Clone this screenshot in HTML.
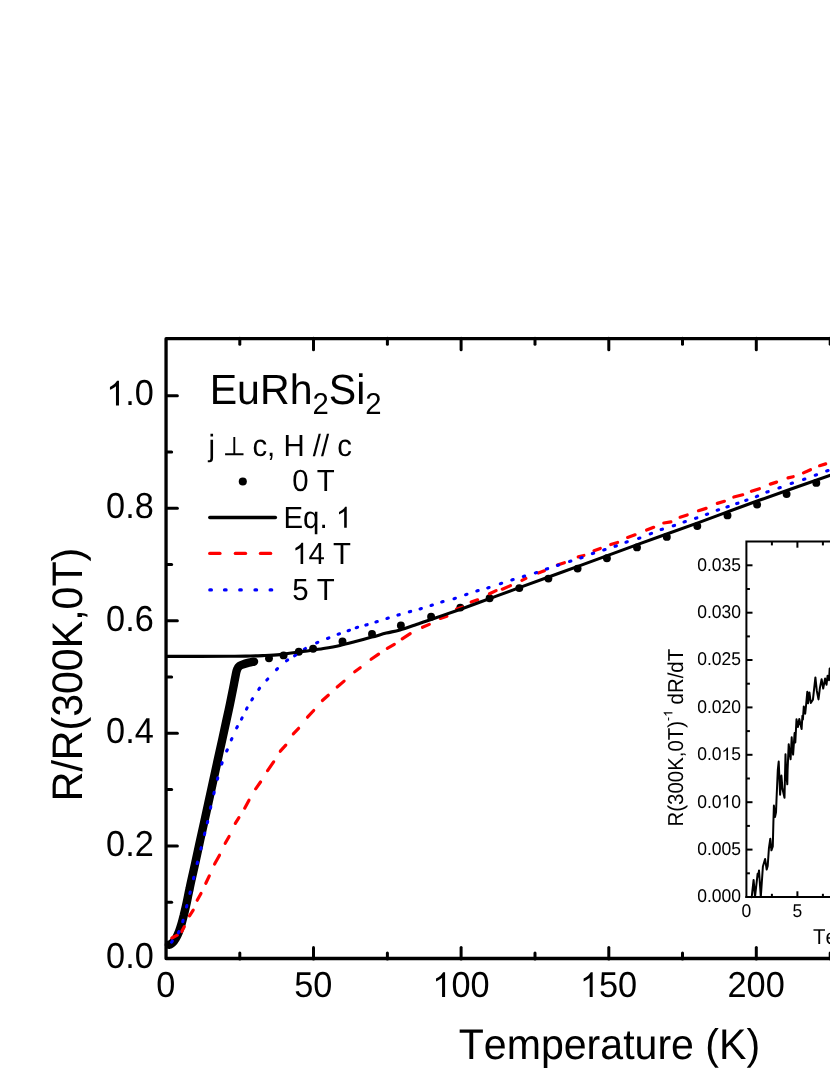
<!DOCTYPE html>
<html lang="en">
<head>
<meta charset="utf-8">
<title>EuRh2Si2 resistance</title>
<style>
html,body{margin:0;padding:0;background:#ffffff;}
body{width:830px;height:1075px;overflow:hidden;font-family:"Liberation Sans",sans-serif;}
svg{will-change:transform;}
svg text{font-family:"Liberation Sans",sans-serif;font-kerning:none;text-rendering:geometricPrecision;}
</style>
</head>
<body>
<svg width="830" height="1075" viewBox="0 0 830 1075" style="display:block">
<rect x="0" y="0" width="830" height="1075" fill="#ffffff"/>
<path d="M168.9,944.7 C169.2,944.6 169.9,944.5 170.5,944.2 C171.1,943.9 171.6,943.5 172.2,943.0 C172.8,942.5 173.4,941.9 173.9,941.2 C174.4,940.5 174.9,939.8 175.4,939.0 C175.9,938.2 176.3,937.6 176.9,936.4 C177.5,935.2 178.2,933.6 179.0,931.6 C179.8,929.6 180.6,927.0 181.4,924.3 C182.2,921.6 182.9,918.5 183.7,915.5 C184.4,912.5 185.2,909.3 185.9,906.3 C186.6,903.3 187.2,900.3 187.8,897.3 C188.4,894.3 188.9,891.7 189.7,888.2 C190.4,884.7 191.4,880.2 192.3,876.2 C193.2,872.2 193.7,870.1 195.0,864.1 C196.3,858.1 198.4,848.6 200.2,840.0 C202.1,831.4 204.3,821.7 206.3,812.5 C208.3,803.3 210.5,793.3 212.3,785.0 C214.1,776.7 215.6,770.0 217.2,762.5 C218.8,755.0 220.6,747.0 222.2,739.9 C223.7,732.8 225.2,725.9 226.5,720.0 C227.8,714.1 228.8,709.6 229.9,704.3 C231.0,699.0 232.3,692.7 233.2,688.0 C234.1,683.3 234.9,678.9 235.5,676.1 C236.1,673.3 236.2,672.3 236.6,671.0 C237.0,669.7 237.2,669.0 237.7,668.2 C238.1,667.4 238.6,666.8 239.3,666.2 C240.0,665.7 240.1,665.5 241.7,664.9 C243.3,664.3 246.8,663.2 248.9,662.7 C251.0,662.2 253.2,661.8 254.0,661.6" fill="none" stroke="#000" stroke-width="8.4" stroke-linecap="round" stroke-linejoin="round"/>
<circle cx="269.0" cy="658.3" r="3.95" fill="#000"/>
<circle cx="283.6" cy="655.4" r="3.95" fill="#000"/>
<circle cx="298.8" cy="651.8" r="3.95" fill="#000"/>
<circle cx="313.1" cy="648.8" r="3.95" fill="#000"/>
<circle cx="342.5" cy="641.5" r="3.95" fill="#000"/>
<circle cx="372.0" cy="633.9" r="3.95" fill="#000"/>
<circle cx="400.9" cy="625.5" r="3.95" fill="#000"/>
<circle cx="431.1" cy="616.8" r="3.95" fill="#000"/>
<circle cx="460.3" cy="607.6" r="3.95" fill="#000"/>
<circle cx="489.6" cy="598.2" r="3.95" fill="#000"/>
<circle cx="519.3" cy="588.1" r="3.95" fill="#000"/>
<circle cx="548.4" cy="578.6" r="3.95" fill="#000"/>
<circle cx="577.6" cy="568.6" r="3.95" fill="#000"/>
<circle cx="606.9" cy="558.3" r="3.95" fill="#000"/>
<circle cx="637.0" cy="547.4" r="3.95" fill="#000"/>
<circle cx="666.8" cy="536.9" r="3.95" fill="#000"/>
<circle cx="697.3" cy="526.1" r="3.95" fill="#000"/>
<circle cx="727.5" cy="515.4" r="3.95" fill="#000"/>
<circle cx="757.1" cy="504.6" r="3.95" fill="#000"/>
<circle cx="786.6" cy="494.1" r="3.95" fill="#000"/>
<circle cx="816.3" cy="482.9" r="3.95" fill="#000"/>
<line x1="171.9" y1="938.0" x2="177.3" y2="935.2" stroke="#ff0000" stroke-width="3.2" stroke-linecap="round"/>
<line x1="181.7" y1="931.6" x2="184.3" y2="926.7" stroke="#ff0000" stroke-width="3.2" stroke-linecap="round"/>
<line x1="189.5" y1="915.8" x2="193.2" y2="910.1" stroke="#ff0000" stroke-width="3.2" stroke-linecap="round"/>
<line x1="197.2" y1="900.2" x2="201.0" y2="893.5" stroke="#ff0000" stroke-width="3.2" stroke-linecap="round"/>
<line x1="205.8" y1="883.3" x2="209.3" y2="875.9" stroke="#ff0000" stroke-width="3.2" stroke-linecap="round"/>
<line x1="214.6" y1="864.0" x2="219.5" y2="855.2" stroke="#ff0000" stroke-width="3.2" stroke-linecap="round"/>
<line x1="225.2" y1="843.3" x2="229.1" y2="836.5" stroke="#ff0000" stroke-width="3.2" stroke-linecap="round"/>
<line x1="235.3" y1="823.4" x2="238.9" y2="817.6" stroke="#ff0000" stroke-width="3.2" stroke-linecap="round"/>
<line x1="244.7" y1="808.2" x2="249.0" y2="800.2" stroke="#ff0000" stroke-width="3.2" stroke-linecap="round"/>
<line x1="255.7" y1="788.8" x2="260.5" y2="782.0" stroke="#ff0000" stroke-width="3.2" stroke-linecap="round"/>
<line x1="267.6" y1="770.6" x2="273.6" y2="761.9" stroke="#ff0000" stroke-width="3.2" stroke-linecap="round"/>
<line x1="280.3" y1="751.2" x2="285.8" y2="745.2" stroke="#ff0000" stroke-width="3.2" stroke-linecap="round"/>
<line x1="293.3" y1="733.8" x2="298.6" y2="728.3" stroke="#ff0000" stroke-width="3.2" stroke-linecap="round"/>
<line x1="307.5" y1="717.2" x2="313.7" y2="710.5" stroke="#ff0000" stroke-width="3.2" stroke-linecap="round"/>
<line x1="322.4" y1="700.5" x2="328.3" y2="695.2" stroke="#ff0000" stroke-width="3.2" stroke-linecap="round"/>
<line x1="337.2" y1="687.0" x2="344.1" y2="681.1" stroke="#ff0000" stroke-width="3.2" stroke-linecap="round"/>
<line x1="354.7" y1="671.7" x2="360.2" y2="667.8" stroke="#ff0000" stroke-width="3.2" stroke-linecap="round"/>
<line x1="371.1" y1="659.3" x2="378.6" y2="654.1" stroke="#ff0000" stroke-width="3.2" stroke-linecap="round"/>
<line x1="387.3" y1="648.3" x2="394.3" y2="644.4" stroke="#ff0000" stroke-width="3.2" stroke-linecap="round"/>
<line x1="402.2" y1="638.9" x2="410.2" y2="633.6" stroke="#ff0000" stroke-width="3.2" stroke-linecap="round"/>
<line x1="422.5" y1="627.3" x2="429.3" y2="624.4" stroke="#ff0000" stroke-width="3.2" stroke-linecap="round"/>
<line x1="440.3" y1="618.4" x2="446.9" y2="616.2" stroke="#ff0000" stroke-width="3.2" stroke-linecap="round"/>
<line x1="456.6" y1="609.1" x2="462.4" y2="607.2" stroke="#ff0000" stroke-width="3.2" stroke-linecap="round"/>
<line x1="471.2" y1="602.1" x2="477.6" y2="599.8" stroke="#ff0000" stroke-width="3.2" stroke-linecap="round"/>
<line x1="489.5" y1="593.7" x2="496.1" y2="590.6" stroke="#ff0000" stroke-width="3.2" stroke-linecap="round"/>
<line x1="502.3" y1="589.2" x2="510.5" y2="585.6" stroke="#ff0000" stroke-width="3.2" stroke-linecap="round"/>
<line x1="521.9" y1="580.4" x2="525.9" y2="578.4" stroke="#ff0000" stroke-width="3.2" stroke-linecap="round"/>
<line x1="538.3" y1="573.0" x2="544.4" y2="570.8" stroke="#ff0000" stroke-width="3.2" stroke-linecap="round"/>
<line x1="557.4" y1="565.0" x2="564.4" y2="562.7" stroke="#ff0000" stroke-width="3.2" stroke-linecap="round"/>
<line x1="578.2" y1="556.9" x2="583.9" y2="555.5" stroke="#ff0000" stroke-width="3.2" stroke-linecap="round"/>
<line x1="594.0" y1="550.7" x2="600.3" y2="548.4" stroke="#ff0000" stroke-width="3.2" stroke-linecap="round"/>
<line x1="610.7" y1="544.6" x2="617.6" y2="542.4" stroke="#ff0000" stroke-width="3.2" stroke-linecap="round"/>
<line x1="627.6" y1="537.4" x2="635.1" y2="534.8" stroke="#ff0000" stroke-width="3.2" stroke-linecap="round"/>
<line x1="646.6" y1="530.1" x2="653.7" y2="527.3" stroke="#ff0000" stroke-width="3.2" stroke-linecap="round"/>
<line x1="663.8" y1="523.0" x2="670.9" y2="521.9" stroke="#ff0000" stroke-width="3.2" stroke-linecap="round"/>
<line x1="680.1" y1="517.2" x2="687.2" y2="515.0" stroke="#ff0000" stroke-width="3.2" stroke-linecap="round"/>
<line x1="698.5" y1="510.7" x2="706.1" y2="508.4" stroke="#ff0000" stroke-width="3.2" stroke-linecap="round"/>
<line x1="717.3" y1="503.4" x2="724.4" y2="501.3" stroke="#ff0000" stroke-width="3.2" stroke-linecap="round"/>
<line x1="733.8" y1="497.0" x2="742.7" y2="494.8" stroke="#ff0000" stroke-width="3.2" stroke-linecap="round"/>
<line x1="751.4" y1="491.3" x2="759.4" y2="488.7" stroke="#ff0000" stroke-width="3.2" stroke-linecap="round"/>
<line x1="770.3" y1="484.1" x2="776.6" y2="482.1" stroke="#ff0000" stroke-width="3.2" stroke-linecap="round"/>
<line x1="788.0" y1="477.9" x2="793.2" y2="476.7" stroke="#ff0000" stroke-width="3.2" stroke-linecap="round"/>
<line x1="803.5" y1="472.9" x2="810.5" y2="469.7" stroke="#ff0000" stroke-width="3.2" stroke-linecap="round"/>
<line x1="819.6" y1="465.7" x2="825.7" y2="463.9" stroke="#ff0000" stroke-width="3.2" stroke-linecap="round"/>
<line x1="171.6" y1="942.2" x2="172.4" y2="941.0" stroke="#0000ff" stroke-width="3.1" stroke-linecap="round"/>
<line x1="178.4" y1="932.8" x2="179.0" y2="931.6" stroke="#0000ff" stroke-width="3.1" stroke-linecap="round"/>
<line x1="182.7" y1="921.7" x2="183.1" y2="920.3" stroke="#0000ff" stroke-width="3.1" stroke-linecap="round"/>
<line x1="186.5" y1="907.0" x2="186.9" y2="905.6" stroke="#0000ff" stroke-width="3.1" stroke-linecap="round"/>
<line x1="189.9" y1="893.4" x2="190.3" y2="892.0" stroke="#0000ff" stroke-width="3.1" stroke-linecap="round"/>
<line x1="193.5" y1="878.7" x2="193.9" y2="877.3" stroke="#0000ff" stroke-width="3.1" stroke-linecap="round"/>
<line x1="197.1" y1="863.6" x2="197.5" y2="862.2" stroke="#0000ff" stroke-width="3.1" stroke-linecap="round"/>
<line x1="200.8" y1="849.1" x2="201.2" y2="847.7" stroke="#0000ff" stroke-width="3.1" stroke-linecap="round"/>
<line x1="204.4" y1="834.5" x2="204.8" y2="833.1" stroke="#0000ff" stroke-width="3.1" stroke-linecap="round"/>
<line x1="207.3" y1="822.9" x2="207.7" y2="821.5" stroke="#0000ff" stroke-width="3.1" stroke-linecap="round"/>
<line x1="210.4" y1="808.2" x2="210.8" y2="806.8" stroke="#0000ff" stroke-width="3.1" stroke-linecap="round"/>
<line x1="213.8" y1="793.7" x2="214.2" y2="792.3" stroke="#0000ff" stroke-width="3.1" stroke-linecap="round"/>
<line x1="217.4" y1="779.3" x2="217.8" y2="777.9" stroke="#0000ff" stroke-width="3.1" stroke-linecap="round"/>
<line x1="221.7" y1="764.1" x2="222.1" y2="762.7" stroke="#0000ff" stroke-width="3.1" stroke-linecap="round"/>
<line x1="226.7" y1="751.0" x2="227.3" y2="749.8" stroke="#0000ff" stroke-width="3.1" stroke-linecap="round"/>
<line x1="231.3" y1="739.8" x2="231.9" y2="738.6" stroke="#0000ff" stroke-width="3.1" stroke-linecap="round"/>
<line x1="236.7" y1="727.9" x2="237.3" y2="726.7" stroke="#0000ff" stroke-width="3.1" stroke-linecap="round"/>
<line x1="241.5" y1="719.1" x2="242.1" y2="717.9" stroke="#0000ff" stroke-width="3.1" stroke-linecap="round"/>
<line x1="246.5" y1="709.1" x2="247.1" y2="707.9" stroke="#0000ff" stroke-width="3.1" stroke-linecap="round"/>
<line x1="251.8" y1="699.9" x2="252.6" y2="698.7" stroke="#0000ff" stroke-width="3.1" stroke-linecap="round"/>
<line x1="258.8" y1="689.4" x2="259.6" y2="688.2" stroke="#0000ff" stroke-width="3.1" stroke-linecap="round"/>
<line x1="266.8" y1="680.0" x2="267.8" y2="679.0" stroke="#0000ff" stroke-width="3.1" stroke-linecap="round"/>
<line x1="276.5" y1="669.6" x2="277.5" y2="668.6" stroke="#0000ff" stroke-width="3.1" stroke-linecap="round"/>
<line x1="286.5" y1="660.8" x2="287.7" y2="660.0" stroke="#0000ff" stroke-width="3.1" stroke-linecap="round"/>
<line x1="294.6" y1="655.8" x2="295.8" y2="655.0" stroke="#0000ff" stroke-width="3.1" stroke-linecap="round"/>
<line x1="304.3" y1="649.3" x2="305.5" y2="648.5" stroke="#0000ff" stroke-width="3.1" stroke-linecap="round"/>
<line x1="316.6" y1="642.9" x2="317.8" y2="642.3" stroke="#0000ff" stroke-width="3.1" stroke-linecap="round"/>
<line x1="327.5" y1="638.5" x2="328.9" y2="637.9" stroke="#0000ff" stroke-width="3.1" stroke-linecap="round"/>
<line x1="338.1" y1="634.2" x2="339.5" y2="633.8" stroke="#0000ff" stroke-width="3.1" stroke-linecap="round"/>
<line x1="348.1" y1="630.7" x2="349.5" y2="630.3" stroke="#0000ff" stroke-width="3.1" stroke-linecap="round"/>
<line x1="356.2" y1="627.7" x2="357.6" y2="627.3" stroke="#0000ff" stroke-width="3.1" stroke-linecap="round"/>
<line x1="365.8" y1="625.1" x2="367.2" y2="624.7" stroke="#0000ff" stroke-width="3.1" stroke-linecap="round"/>
<line x1="375.9" y1="622.0" x2="377.3" y2="621.6" stroke="#0000ff" stroke-width="3.1" stroke-linecap="round"/>
<line x1="386.9" y1="618.5" x2="388.3" y2="618.1" stroke="#0000ff" stroke-width="3.1" stroke-linecap="round"/>
<line x1="397.9" y1="615.1" x2="399.3" y2="614.7" stroke="#0000ff" stroke-width="3.1" stroke-linecap="round"/>
<line x1="409.3" y1="611.8" x2="410.7" y2="611.4" stroke="#0000ff" stroke-width="3.1" stroke-linecap="round"/>
<line x1="420.0" y1="608.9" x2="421.4" y2="608.5" stroke="#0000ff" stroke-width="3.1" stroke-linecap="round"/>
<line x1="431.0" y1="605.5" x2="432.4" y2="605.1" stroke="#0000ff" stroke-width="3.1" stroke-linecap="round"/>
<line x1="441.7" y1="602.0" x2="443.1" y2="601.6" stroke="#0000ff" stroke-width="3.1" stroke-linecap="round"/>
<line x1="454.0" y1="598.7" x2="455.4" y2="598.3" stroke="#0000ff" stroke-width="3.1" stroke-linecap="round"/>
<line x1="465.6" y1="594.7" x2="467.0" y2="594.3" stroke="#0000ff" stroke-width="3.1" stroke-linecap="round"/>
<line x1="476.8" y1="591.0" x2="478.2" y2="590.6" stroke="#0000ff" stroke-width="3.1" stroke-linecap="round"/>
<line x1="487.7" y1="587.9" x2="489.1" y2="587.5" stroke="#0000ff" stroke-width="3.1" stroke-linecap="round"/>
<line x1="500.3" y1="583.7" x2="501.7" y2="583.3" stroke="#0000ff" stroke-width="3.1" stroke-linecap="round"/>
<line x1="511.8" y1="580.0" x2="513.2" y2="579.6" stroke="#0000ff" stroke-width="3.1" stroke-linecap="round"/>
<line x1="523.3" y1="576.5" x2="524.7" y2="576.1" stroke="#0000ff" stroke-width="3.1" stroke-linecap="round"/>
<line x1="535.3" y1="572.9" x2="536.7" y2="572.5" stroke="#0000ff" stroke-width="3.1" stroke-linecap="round"/>
<line x1="546.3" y1="569.1" x2="547.7" y2="568.7" stroke="#0000ff" stroke-width="3.1" stroke-linecap="round"/>
<line x1="557.4" y1="565.4" x2="558.8" y2="565.0" stroke="#0000ff" stroke-width="3.1" stroke-linecap="round"/>
<line x1="569.5" y1="561.5" x2="570.9" y2="561.1" stroke="#0000ff" stroke-width="3.1" stroke-linecap="round"/>
<line x1="580.7" y1="558.0" x2="582.1" y2="557.6" stroke="#0000ff" stroke-width="3.1" stroke-linecap="round"/>
<line x1="592.3" y1="553.6" x2="593.7" y2="553.2" stroke="#0000ff" stroke-width="3.1" stroke-linecap="round"/>
<line x1="603.7" y1="550.0" x2="605.1" y2="549.6" stroke="#0000ff" stroke-width="3.1" stroke-linecap="round"/>
<line x1="615.0" y1="546.3" x2="616.4" y2="545.9" stroke="#0000ff" stroke-width="3.1" stroke-linecap="round"/>
<line x1="625.9" y1="542.2" x2="627.3" y2="541.8" stroke="#0000ff" stroke-width="3.1" stroke-linecap="round"/>
<line x1="638.5" y1="538.4" x2="639.9" y2="538.0" stroke="#0000ff" stroke-width="3.1" stroke-linecap="round"/>
<line x1="650.2" y1="533.9" x2="651.6" y2="533.3" stroke="#0000ff" stroke-width="3.1" stroke-linecap="round"/>
<line x1="661.1" y1="529.6" x2="662.5" y2="529.2" stroke="#0000ff" stroke-width="3.1" stroke-linecap="round"/>
<line x1="673.2" y1="525.8" x2="674.6" y2="525.4" stroke="#0000ff" stroke-width="3.1" stroke-linecap="round"/>
<line x1="684.0" y1="522.0" x2="685.4" y2="521.6" stroke="#0000ff" stroke-width="3.1" stroke-linecap="round"/>
<line x1="695.5" y1="518.3" x2="696.9" y2="517.9" stroke="#0000ff" stroke-width="3.1" stroke-linecap="round"/>
<line x1="706.3" y1="514.4" x2="707.7" y2="514.0" stroke="#0000ff" stroke-width="3.1" stroke-linecap="round"/>
<line x1="717.2" y1="510.2" x2="718.6" y2="509.8" stroke="#0000ff" stroke-width="3.1" stroke-linecap="round"/>
<line x1="726.9" y1="507.0" x2="728.3" y2="506.6" stroke="#0000ff" stroke-width="3.1" stroke-linecap="round"/>
<line x1="736.6" y1="503.6" x2="738.0" y2="503.2" stroke="#0000ff" stroke-width="3.1" stroke-linecap="round"/>
<line x1="745.6" y1="500.4" x2="747.0" y2="500.0" stroke="#0000ff" stroke-width="3.1" stroke-linecap="round"/>
<line x1="756.3" y1="496.6" x2="757.7" y2="496.0" stroke="#0000ff" stroke-width="3.1" stroke-linecap="round"/>
<line x1="766.8" y1="492.1" x2="768.2" y2="491.7" stroke="#0000ff" stroke-width="3.1" stroke-linecap="round"/>
<line x1="778.9" y1="488.0" x2="780.3" y2="487.6" stroke="#0000ff" stroke-width="3.1" stroke-linecap="round"/>
<line x1="791.1" y1="483.5" x2="792.5" y2="483.1" stroke="#0000ff" stroke-width="3.1" stroke-linecap="round"/>
<line x1="803.5" y1="479.5" x2="804.9" y2="479.1" stroke="#0000ff" stroke-width="3.1" stroke-linecap="round"/>
<line x1="815.2" y1="475.2" x2="816.6" y2="474.8" stroke="#0000ff" stroke-width="3.1" stroke-linecap="round"/>
<line x1="826.7" y1="471.0" x2="828.1" y2="470.6" stroke="#0000ff" stroke-width="3.1" stroke-linecap="round"/>
<path d="M167.5,656.4 C177.9,656.4 216.2,656.4 230.0,656.3 C243.8,656.2 244.2,656.1 250.0,656.0 C255.8,655.9 260.0,655.7 265.0,655.5 C270.0,655.3 275.9,655.0 280.0,654.6 C284.1,654.2 285.2,653.9 289.4,653.3 C293.6,652.7 299.6,651.9 305.3,651.1 C311.0,650.3 317.6,649.5 323.4,648.5 C329.2,647.5 334.8,646.5 340.0,645.4 C345.2,644.3 349.2,643.2 354.5,641.8 C359.8,640.4 366.5,638.5 371.8,637.1 C377.1,635.7 381.6,634.3 386.3,633.1 C391.0,631.9 394.4,631.5 400.0,629.9 C405.6,628.2 414.8,624.9 420.0,623.2 C425.2,621.5 427.7,620.6 431.0,619.5 C434.3,618.4 435.2,618.1 440.0,616.4 C444.8,614.7 451.7,612.4 460.0,609.5 C468.3,606.5 479.6,602.3 489.6,598.6 C499.6,594.9 504.9,592.9 520.0,587.4 C535.1,581.9 560.0,572.9 580.0,565.6 C600.0,558.3 620.0,550.9 640.0,543.6 C660.0,536.4 680.0,529.4 700.0,522.1 C720.0,514.8 738.0,507.9 760.0,500.0 C782.0,492.1 820.0,478.8 832.0,474.6" fill="none" stroke="#000" stroke-width="3.1" stroke-linejoin="round" stroke-linecap="round"/>
<g stroke="#000" stroke-width="3.3" fill="none" stroke-linecap="round" stroke-linejoin="round">
<path d="M850,338.7 L166.05,338.7 L166.05,958.5 L850,958.5"/>
</g>
<g stroke="#000" stroke-width="3.0" fill="none" stroke-linecap="round">
<path d="M239.8,958.9 v-5.9"/>
<path d="M239.8,338.3 v5.9"/>
<path d="M313.5,958.9 v-11.5"/>
<path d="M313.5,338.3 v11.5"/>
<path d="M387.4,958.9 v-5.9"/>
<path d="M387.4,338.3 v5.9"/>
<path d="M461.1,958.9 v-11.5"/>
<path d="M461.1,338.3 v11.5"/>
<path d="M535.0,958.9 v-5.9"/>
<path d="M535.0,338.3 v5.9"/>
<path d="M608.8,958.9 v-11.5"/>
<path d="M608.8,338.3 v11.5"/>
<path d="M682.5,958.9 v-5.9"/>
<path d="M682.5,338.3 v5.9"/>
<path d="M756.3,958.9 v-11.5"/>
<path d="M756.3,338.3 v11.5"/>
<path d="M830.2,958.9 v-5.9"/>
<path d="M830.2,338.3 v5.9"/>
<path d="M166.55,902.2 h5.1"/>
<path d="M166.55,845.9 h10.8"/>
<path d="M166.55,789.6 h5.1"/>
<path d="M166.55,733.3 h10.8"/>
<path d="M166.55,677.1 h5.1"/>
<path d="M166.55,620.8 h10.8"/>
<path d="M166.55,564.5 h5.1"/>
<path d="M166.55,508.2 h10.8"/>
<path d="M166.55,451.9 h5.1"/>
<path d="M166.55,395.7 h10.8"/>
</g>
<text font-family="Liberation Sans, sans-serif" font-size="34.3" fill="#000" text-anchor="middle" transform="translate(165.8,997.0) scale(1,1.05)">0</text>
<text font-family="Liberation Sans, sans-serif" font-size="34.3" fill="#000" text-anchor="middle" transform="translate(313.3,997.0) scale(1,1.05)">50</text>
<path d="M763,0 H583 V1147 Q518,1085 412.5,1023 Q307,961 223,930 V1104 Q374,1175 487,1276 Q600,1377 647,1472 H763 Z" fill="#000" transform="translate(432.3,997.0) scale(0.01675,-0.01675)"/>
<text font-family="Liberation Sans, sans-serif" font-size="34.3" fill="#000" text-anchor="start" transform="translate(451.4,997.0) scale(1,1.05)">00</text>
<path d="M763,0 H583 V1147 Q518,1085 412.5,1023 Q307,961 223,930 V1104 Q374,1175 487,1276 Q600,1377 647,1472 H763 Z" fill="#000" transform="translate(579.9,997.0) scale(0.01675,-0.01675)"/>
<text font-family="Liberation Sans, sans-serif" font-size="34.3" fill="#000" text-anchor="start" transform="translate(599.0,997.0) scale(1,1.05)">50</text>
<text font-family="Liberation Sans, sans-serif" font-size="34.3" fill="#000" text-anchor="middle" transform="translate(756.1,997.0) scale(1,1.05)">200</text>
<text font-family="Liberation Sans, sans-serif" font-size="34.3" fill="#000" text-anchor="end" transform="translate(153.8,968.2) scale(1,1.05)">0.0</text>
<text font-family="Liberation Sans, sans-serif" font-size="34.3" fill="#000" text-anchor="end" transform="translate(153.8,855.6) scale(1,1.05)">0.2</text>
<text font-family="Liberation Sans, sans-serif" font-size="34.3" fill="#000" text-anchor="end" transform="translate(153.8,743.0) scale(1,1.05)">0.4</text>
<text font-family="Liberation Sans, sans-serif" font-size="34.3" fill="#000" text-anchor="end" transform="translate(153.8,630.5) scale(1,1.05)">0.6</text>
<text font-family="Liberation Sans, sans-serif" font-size="34.3" fill="#000" text-anchor="end" transform="translate(153.8,517.9) scale(1,1.05)">0.8</text>
<path d="M763,0 H583 V1147 Q518,1085 412.5,1023 Q307,961 223,930 V1104 Q374,1175 487,1276 Q600,1377 647,1472 H763 Z" fill="#000" transform="translate(106.2,405.4) scale(0.01675,-0.01675)"/>
<text font-family="Liberation Sans, sans-serif" font-size="34.3" fill="#000" text-anchor="start" transform="translate(125.2,405.4) scale(1,1.05)">.0</text>
<text font-family="Liberation Sans, sans-serif" font-size="41.1" fill="#000" text-anchor="start" transform="translate(458.7,1059.0) scale(1,1.04)">Temperature (K)</text>
<text font-family="Liberation Sans, sans-serif" font-size="41.1" fill="#000" text-anchor="start" transform="translate(81.7,801.3) rotate(-90) scale(1,1.04)">R/R(300K,0T)</text>
<text font-family="Liberation Sans, sans-serif" font-size="41.1" fill="#000" text-anchor="start" transform="translate(209.7,404.3) scale(1,1.03)">EuRh<tspan font-size="29.3" dy="9.8">2</tspan><tspan dy="-9.8">Si</tspan><tspan font-size="29.3" dy="9.8">2</tspan></text>
<text font-family="Liberation Sans, sans-serif" font-size="29.4" fill="#000" text-anchor="start" transform="translate(208.4,455.6) scale(1,1.04)">j</text>
<path d="M225.1,454.3 H243.5 M234.3,454.3 V437.0" fill="none" stroke="#000" stroke-width="1.9"/>
<text font-family="Liberation Sans, sans-serif" font-size="29.4" fill="#000" text-anchor="start" transform="translate(252.4,455.6) scale(1,1.04)">c, H // c</text>
<text font-family="Liberation Sans, sans-serif" font-size="29.4" fill="#000" text-anchor="start" transform="translate(292.2,491.3) scale(1,1.04)">0 T</text>
<text font-family="Liberation Sans, sans-serif" font-size="29.4" fill="#000" text-anchor="start" transform="translate(283.5,527.8) scale(1,1.04)">Eq. </text>
<path d="M763,0 H583 V1147 Q518,1085 412.5,1023 Q307,961 223,930 V1104 Q374,1175 487,1276 Q600,1377 647,1472 H763 Z" fill="#000" transform="translate(335.8,527.8) scale(0.01436,-0.01436)"/>
<path d="M763,0 H583 V1147 Q518,1085 412.5,1023 Q307,961 223,930 V1104 Q374,1175 487,1276 Q600,1377 647,1472 H763 Z" fill="#000" transform="translate(292.2,563.9) scale(0.01436,-0.01436)"/>
<text font-family="Liberation Sans, sans-serif" font-size="29.4" fill="#000" text-anchor="start" transform="translate(308.6,563.9) scale(1,1.04)">4 T</text>
<text font-family="Liberation Sans, sans-serif" font-size="29.4" fill="#000" text-anchor="start" transform="translate(292.2,600.2) scale(1,1.04)">5 T</text>
<circle cx="242.8" cy="481.5" r="4.05" fill="#000"/>
<line x1="209.8" y1="517.5" x2="275.4" y2="517.5" stroke="#000" stroke-width="3.4" stroke-linecap="round"/>
<line x1="209.8" y1="553.4" x2="219.9" y2="553.4" stroke="#ff0000" stroke-width="3.4" stroke-linecap="round"/>
<line x1="235.4" y1="553.4" x2="245.5" y2="553.4" stroke="#ff0000" stroke-width="3.4" stroke-linecap="round"/>
<line x1="260.5" y1="553.4" x2="270.6" y2="553.4" stroke="#ff0000" stroke-width="3.4" stroke-linecap="round"/>
<line x1="209.79999999999998" y1="589.9" x2="211.4" y2="589.9" stroke="#0000ff" stroke-width="3.2" stroke-linecap="round"/>
<line x1="224.5" y1="589.9" x2="226.10000000000002" y2="589.9" stroke="#0000ff" stroke-width="3.2" stroke-linecap="round"/>
<line x1="239.7" y1="589.9" x2="241.3" y2="589.9" stroke="#0000ff" stroke-width="3.2" stroke-linecap="round"/>
<line x1="255.0" y1="589.9" x2="256.6" y2="589.9" stroke="#0000ff" stroke-width="3.2" stroke-linecap="round"/>
<line x1="270.09999999999997" y1="589.9" x2="271.7" y2="589.9" stroke="#0000ff" stroke-width="3.2" stroke-linecap="round"/>
<g stroke="#000" stroke-width="2.0" fill="none">
<path d="M840,541.5 L746.4,541.5 L746.4,898.0"/>
<path d="M745.4,897.0 L840,897.0"/>
<path d="M771.9,897.0 v-3.2"/>
<path d="M771.9,541.5 v3.9"/>
<path d="M797.4,897.0 v-5.7"/>
<path d="M797.4,541.5 v6.2"/>
<path d="M822.9,897.0 v-3.2"/>
<path d="M822.9,541.5 v3.9"/>
<path d="M746.4,873.3 h3.5"/>
<path d="M746.4,849.6 h6.1"/>
<path d="M746.4,825.9 h3.5"/>
<path d="M746.4,802.2 h6.1"/>
<path d="M746.4,778.5 h3.5"/>
<path d="M746.4,754.8 h6.1"/>
<path d="M746.4,731.1 h3.5"/>
<path d="M746.4,707.4 h6.1"/>
<path d="M746.4,683.7 h3.5"/>
<path d="M746.4,660.0 h6.1"/>
<path d="M746.4,636.4 h3.5"/>
<path d="M746.4,612.7 h6.1"/>
<path d="M746.4,589.0 h3.5"/>
<path d="M746.4,565.3 h6.1"/>
</g>
<path d="M751.7,897.2 L753.6,879.9 L755.0,897.0 L757.6,873.8 L758.3,876.5 L759.0,870.4 L760.8,897.0 L762.9,866.5 L765.1,859.0 L766.7,869.5 L767.7,866.0 L768.9,848.5 L770.3,838.7 L771.4,850.3 L772.8,846.3 L773.4,822.0 L773.9,805.5 L775.0,817.0 L776.0,812.4 L776.5,800.0 L777.8,770.0 L778.7,761.5 L780.1,794.8 L781.4,775.6 L782.5,789.0 L784.5,797.7 L785.5,754.3 L786.0,770.0 L787.3,784.3 L787.6,770.0 L788.7,744.2 L789.6,752.0 L790.6,759.3 L791.7,737.3 L792.3,748.0 L793.1,754.6 L794.6,733.0 L795.3,742.4 L796.5,719.3 L797.9,727.0 L799.3,719.0 L801.6,729.1 L802.4,715.8 L802.9,719.5 L803.8,706.4 L805.2,713.7 L806.0,706.0 L807.3,691.8 L808.0,703.3 L809.4,692.4 L810.8,702.9 L812.9,699.8 L815.4,677.4 L816.8,690.7 L818.5,699.4 L819.9,687.9 L821.6,679.2 L823.2,688.6 L825.1,678.5 L826.5,684.8 L827.6,675.7 L829.0,680.2 L829.7,668.4 L832.0,672.0" fill="none" stroke="#000" stroke-width="2.0" stroke-linejoin="round" stroke-linecap="round"/>
<text font-family="Liberation Sans, sans-serif" font-size="17.5" fill="#000" text-anchor="end" transform="translate(741.0,902.3) scale(1,1.055)">0.000</text>
<text font-family="Liberation Sans, sans-serif" font-size="17.5" fill="#000" text-anchor="end" transform="translate(741.0,854.9) scale(1,1.055)">0.005</text>
<text font-family="Liberation Sans, sans-serif" font-size="17.5" fill="#000" text-anchor="start" transform="translate(697.2,807.5) scale(1,1.055)">0.0</text>
<path d="M763,0 H583 V1147 Q518,1085 412.5,1023 Q307,961 223,930 V1104 Q374,1175 487,1276 Q600,1377 647,1472 H763 Z" fill="#000" transform="translate(721.5,807.5) scale(0.00854,-0.00854)"/>
<text font-family="Liberation Sans, sans-serif" font-size="17.5" fill="#000" text-anchor="start" transform="translate(731.3,807.5) scale(1,1.055)">0</text>
<text font-family="Liberation Sans, sans-serif" font-size="17.5" fill="#000" text-anchor="start" transform="translate(697.2,760.1) scale(1,1.055)">0.0</text>
<path d="M763,0 H583 V1147 Q518,1085 412.5,1023 Q307,961 223,930 V1104 Q374,1175 487,1276 Q600,1377 647,1472 H763 Z" fill="#000" transform="translate(721.5,760.1) scale(0.00854,-0.00854)"/>
<text font-family="Liberation Sans, sans-serif" font-size="17.5" fill="#000" text-anchor="start" transform="translate(731.3,760.1) scale(1,1.055)">5</text>
<text font-family="Liberation Sans, sans-serif" font-size="17.5" fill="#000" text-anchor="end" transform="translate(741.0,712.7) scale(1,1.055)">0.020</text>
<text font-family="Liberation Sans, sans-serif" font-size="17.5" fill="#000" text-anchor="end" transform="translate(741.0,665.3) scale(1,1.055)">0.025</text>
<text font-family="Liberation Sans, sans-serif" font-size="17.5" fill="#000" text-anchor="end" transform="translate(741.0,618.0) scale(1,1.055)">0.030</text>
<text font-family="Liberation Sans, sans-serif" font-size="17.5" fill="#000" text-anchor="end" transform="translate(741.0,570.6) scale(1,1.055)">0.035</text>
<text font-family="Liberation Sans, sans-serif" font-size="17.5" fill="#000" text-anchor="middle" transform="translate(746.3,916.7) scale(1,1.055)">0</text>
<text font-family="Liberation Sans, sans-serif" font-size="17.5" fill="#000" text-anchor="middle" transform="translate(797.4,916.7) scale(1,1.055)">5</text>
<text font-family="Liberation Sans, sans-serif" font-size="20.4" fill="#000" text-anchor="start" transform="translate(813.0,943.8) scale(1,1.06)">Temperature (K)</text>
<text font-family="Liberation Sans, sans-serif" font-size="20.4" fill="#000" text-anchor="start" transform="translate(682.8,826.4) rotate(-90) scale(1,1.06)">R(300K,0T)</text>
<text font-family="Liberation Sans, sans-serif" font-size="12.2" fill="#000" text-anchor="start" transform="translate(672.4,721.0) rotate(-90) scale(1,1.06)">-</text>
<path d="M763,0 H583 V1147 Q518,1085 412.5,1023 Q307,961 223,930 V1104 Q374,1175 487,1276 Q600,1377 647,1472 H763 Z" fill="#000" transform="translate(672.4,716.9) rotate(-90) scale(0.00596,-0.00596)"/>
<text font-family="Liberation Sans, sans-serif" font-size="20.4" fill="#000" text-anchor="start" transform="translate(682.8,704.4) rotate(-90) scale(1,1.06)">dR/dT</text>
</svg>
</body>
</html>
